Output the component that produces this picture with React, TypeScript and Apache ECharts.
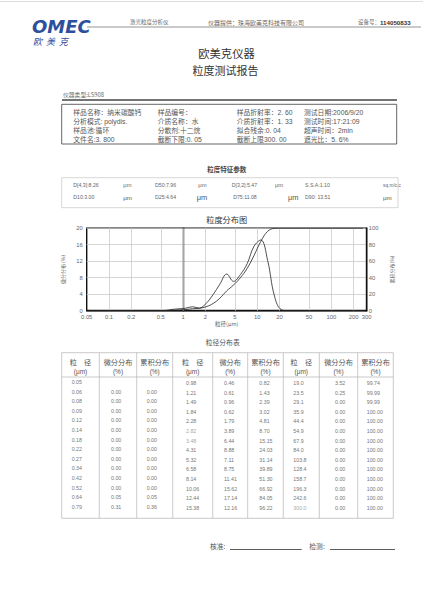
import React, { useEffect, useRef } from "react";
import * as echarts from "echarts";

// ---------- data ----------
const sizeCol1 = [0.05, 0.06, 0.08, 0.09, 0.12, 0.14, 0.18, 0.22, 0.27, 0.34, 0.42, 0.52, 0.64, 0.79];
const diffCol1 = [0, 0, 0, 0, 0, 0, 0, 0, 0, 0, 0, 0.05, 0.31];
const cumCol1 = [0, 0, 0, 0, 0, 0, 0, 0, 0, 0, 0, 0.05, 0.36];
const sizeCol2 = [0.98, 1.21, 1.49, 1.84, 2.28, 2.82, 3.48, 4.31, 5.32, 6.58, 8.14, 10.06, 12.44, 15.38];
const diffCol2 = [0.46, 0.61, 0.96, 0.62, 1.79, 3.89, 6.44, 8.88, 7.11, 8.75, 11.41, 15.62, 17.14, 12.16];
const cumCol2 = [0.82, 1.43, 2.39, 3.02, 4.81, 8.7, 15.15, 24.03, 31.14, 39.89, 51.3, 66.92, 84.05, 96.22];
const sizeCol3 = [19.0, 23.5, 29.1, 35.9, 44.4, 54.9, 67.9, 84.0, 103.8, 128.4, 158.7, 196.3, 242.6, 300.0];
const diffCol3 = [3.52, 0.25, 0, 0, 0, 0, 0, 0, 0, 0, 0, 0, 0, 0];
const cumCol3 = [99.74, 99.99, 99.99, 100, 100, 100, 100, 100, 100, 100, 100, 100, 100, 100];

const xTicks = [0.05, 0.1, 0.2, 0.5, 1, 2, 5, 10, 20, 50, 100, 200, 300];
const xTickLabels = ["0.05", "0.1", "0.2", "0.5", "1", "2", "5", "10", "20", "50", "100", "200", "300"];

const infoRows = [
  ["样品名称：纳米碳酸钙", "样品编号：", "样品折射率：2. 60", "测试日期:2006/9/20"],
  ["分析模式: polydis.", "介质名称：水", "介质折射率：1. 33", "测试时间:17:21:09"],
  ["样品池:循环", "分散剂:十二烷", "拟合残余:0. 04", "超声时间：2min"],
  ["文件名:3. 800", "截断下限:0. 05", "截断上限300. 00", "遮光比：5. 6%"],
];
const paramRow1 = ["D[4,3]:8.26", "D50:7.96", "D[3,2]:5.47", "S.S.A:1.10"];
const paramRow2 = ["D10:3.00", "D25:4.64", "D75:11.08", "D90: 13.51"];
const paramUnits1 = ["μm", "μm", "μm", "sq.m/c.c"];
const paramUnits2 = ["μm", "μm", "μm", "μm"];
const tableHeaders = [
  ["粒　径", "(μm)"], ["微分分布", "(%)"], ["累积分布", "(%)"],
  ["粒　径", "(μm)"], ["微分布", "(%)"], ["累积分布", "(%)"],
  ["粒　径", "(μm)"], ["微分分布", "(%)"], ["累积分布", "(%)"],
];

const FONT = '"Liberation Sans", "Noto Sans CJK SC", sans-serif';
const CJK = '"Noto Sans CJK SC", sans-serif';

function txt(x: number, y: number, text: string, fontSize: number, o: any = {}) {
  const align = o.align || "left";
  return {
    type: "text",
    x,
    y,
    silent: true,
    scaleX: o.scaleX || 1,
    style: {
      text,
      fontSize,
      fontFamily: o.family || FONT,
      fontWeight: o.weight || "normal",
      fontStyle: o.style || "normal",
      fill: o.fill || "#555",
      align,
      textAlign: align,
      verticalAlign: "middle",
      textVerticalAlign: "middle",
    },
  };
}
function ln(x1: number, y1: number, x2: number, y2: number, stroke: string, lineWidth: number) {
  return { type: "line", silent: true, shape: { x1, y1, x2, y2 }, style: { stroke, lineWidth } };
}
function box(x: number, y: number, w: number, h: number, stroke: string, lineWidth: number) {
  return { type: "rect", silent: true, shape: { x, y, width: w, height: h }, style: { fill: "none", stroke, lineWidth } };
}

export default function App() {
  const ref = useRef<HTMLDivElement>(null);
  useEffect(() => {
    if (!ref.current) return;
    const chart = echarts.init(ref.current, null, { renderer: "svg" });

    const sizes = [...sizeCol1, ...sizeCol2, ...sizeCol3];
    const diffs = [...diffCol1, ...diffCol2, ...diffCol3];
    const cums = [...cumCol1, ...cumCol2, ...cumCol3];
    const mids = diffs.map((_, i) => Math.log10(Math.sqrt(sizes[i] * sizes[i + 1])));
    const diffData = diffs.map((v, i) => [mids[i], v]);
    const cumData = cums.map((v, i) => [mids[i], v]);
    const tickLogs = xTicks.map((t) => Math.log10(t));
    const labelFor = (v: number) => {
      let best = 0;
      tickLogs.forEach((t, i) => {
        if (Math.abs(t - v) < Math.abs(tickLogs[best] - v)) best = i;
      });
      return xTickLabels[best];
    };

    const g: any[] = [];
    // page top edge
    g.push(ln(0, 1.5, 423, 1.5, "#dddddd", 1));
    // logo
    g.push(txt(32, 26, "OMEC", 18, { weight: "bold", style: "italic", fill: "#2d4f9e", family: '"DejaVu Sans", sans-serif' }));
    g.push(txt(33, 41.5, "欧  美  克", 9, { style: "italic", fill: "#2d4f9e", family: CJK }));
    // header
    g.push(txt(130, 22.3, "激光粒度分析仪", 5.5, { family: CJK, fill: "#666" }));
    g.push(txt(208, 22.3, "仪器提供：珠海欧美克科技有限公司", 6, { family: CJK, fill: "#666" }));
    g.push(txt(358, 22.3, "设备号：", 5.5, { family: CJK, fill: "#666" }));
    g.push(txt(380, 22.3, "114050833", 6.2, { fill: "#333", weight: "bold" }));
    g.push(ln(87, 27, 421, 27, "#888", 0.9));
    // titles
    g.push(txt(226.5, 53, "欧美克仪器", 11.3, { align: "center", family: CJK, fill: "#333" }));
    g.push(txt(225.5, 70, "粒度测试报告", 11, { align: "center", family: CJK, fill: "#333" }));
    g.push(txt(63, 94.3, "仪器类型:LS908", 5.8, { family: CJK, fill: "#666" }));
    g.push(ln(62, 100, 397, 100, "#444", 1.4));
    g.push(box(61.7, 104.3, 335, 39.7, "#555", 0.9));
    const infoX = [73.3, 157.7, 236.7, 304];
    const infoY = [112, 121.5, 130.8, 139.8];
    infoRows.forEach((row, r) =>
      row.forEach((s, c) => g.push(txt(infoX[c], infoY[r], s, 6.8, { fill: "#555" })))
    );
    // feature params
    g.push(txt(226.7, 169, "粒度特征参数", 6.5, { align: "center", family: CJK, fill: "#444", weight: "bold" }));
    g.push(box(61.7, 177.7, 336.3, 30, "#cccccc", 0.8));
    const pX = [73.3, 155, 231.7, 305];
    const uX1 = [123.3, 198.3, 275, 383];
    const uX2 = [123.3, 196.7, 288, 383];
    paramRow1.forEach((s, i) => {
      g.push(txt(pX[i], 185, s, 5.2, { fill: "#666" }));
      g.push(txt(uX1[i], 185, paramUnits1[i], i === 3 ? 4.8 : 5.8, { fill: "#666" }));
    });
    paramRow2.forEach((s, i) => {
      g.push(txt(pX[i] + (i === 2 ? 1.5 : 0), 197.3, s, 5.2, { fill: "#666" }));
      g.push(txt(uX2[i], 197.3, paramUnits2[i], i === 1 || i === 2 ? 7.5 : 6.2, { fill: "#555" }));
    });
    // chart title
    g.push(txt(226.7, 219.3, "粒度分布图", 8.2, { align: "center", family: CJK, fill: "#333" }));
    // table
    g.push(txt(222.7, 342.3, "粒径分布表", 6.8, { align: "center", family: CJK, fill: "#555" }));
    const colX = [61.7, 99.3, 136.7, 172.7, 212.7, 247.7, 283.3, 319.3, 357.7, 393.3];
    g.push(box(61.7, 352.7, 331.6, 165.6, "#bbbbbb", 0.8));
    for (let i = 1; i < colX.length - 1; i++) g.push(ln(colX[i], 352.7, colX[i], 518.3, "#bbbbbb", 0.8));
    g.push(ln(61.7, 377, 393.3, 377, "#bbbbbb", 0.8));
    tableHeaders.forEach((h, i) => {
      const cx = (colX[i] + colX[i + 1]) / 2;
      g.push(txt(cx, 361.7, h[0], 7.2, { align: "center", family: CJK, fill: "#555" }));
      g.push(txt(cx, 371, h[1], 6.5, { align: "center", fill: "#555" }));
    });
    const dX = [71.7, 111, 146.7, 186, 224, 259.3, 293.3, 335, 366.7];
    const rowY1 = (i: number) => 382 + 9.6 * i;
    const rowY2 = (i: number) => 383 + 9.6 * i;
    const dfs = { fill: "#777" };
    sizeCol1.forEach((v, i) => g.push(txt(dX[0], rowY1(i), v.toFixed(2), 5.3, dfs)));
    diffCol1.forEach((v, i) => g.push(txt(dX[1], rowY1(i + 1), v.toFixed(2), 5.3, dfs)));
    cumCol1.forEach((v, i) => g.push(txt(dX[2], rowY1(i + 1), v.toFixed(2), 5.3, dfs)));
    sizeCol2.forEach((v, i) => g.push(txt(dX[3], rowY2(i), v.toFixed(2), 5.3, { fill: i === 5 || i === 6 ? "#aaa" : "#777" })));
    diffCol2.forEach((v, i) => g.push(txt(dX[4], rowY2(i), v.toFixed(2), 5.3, dfs)));
    cumCol2.forEach((v, i) => g.push(txt(dX[5], rowY2(i), v.toFixed(2), 5.3, dfs)));
    sizeCol3.forEach((v, i) => g.push(txt(dX[6], rowY2(i), v.toFixed(1), 5.3, { fill: i === 13 ? "#aaa" : "#777" })));
    diffCol3.forEach((v, i) => g.push(txt(dX[7], rowY2(i), v.toFixed(2), 5.3, dfs)));
    cumCol3.forEach((v, i) => g.push(txt(dX[8], rowY2(i), v.toFixed(2), 5.3, dfs)));
    // signatures
    g.push(txt(210, 546, "核准:", 6.8, { family: CJK, fill: "#555" }));
    g.push(ln(230, 549.5, 301.7, 549.5, "#333", 0.8));
    g.push(txt(309.3, 546, "检测:", 6.8, { family: CJK, fill: "#555" }));
    g.push(ln(330, 549.5, 395, 549.5, "#333", 0.8));

    chart.setOption({
      animation: false,
      backgroundColor: "#ffffff",
      graphic: { elements: g },
      grid: {
        left: 86.7,
        top: 228.2,
        width: 280,
        height: 82.5,
        show: true,
        borderColor: "#111",
        borderWidth: 1.4,
        backgroundColor: "transparent",
      },
      xAxis: {
        type: "value",
        min: Math.log10(0.05),
        max: Math.log10(300),
        axisLine: { show: true, lineStyle: { color: "#111", width: 1.4 } },
        axisTick: { show: false },
        splitLine: { show: false },
        axisLabel: {
          customValues: tickLogs,
          formatter: (v: number) => labelFor(v),
          fontSize: 5.8,
          color: "#666",
          margin: 3,
          hideOverlap: false,
          showMinLabel: true,
          showMaxLabel: true,
          fontFamily: FONT,
        },
        name: "粒径(μm)",
        nameLocation: "middle",
        nameGap: 11,
        nameTextStyle: { fontSize: 5.5, color: "#666", fontFamily: CJK },
      },
      yAxis: [
        {
          type: "value",
          min: 0,
          max: 20,
          interval: 4,
          axisLine: { show: true, lineStyle: { color: "#111", width: 1.4 } },
          axisTick: { show: false },
          splitLine: { show: true, lineStyle: { color: "#cccccc", width: 0.8 } },
          axisLabel: { fontSize: 5.8, color: "#666", margin: 4, fontFamily: FONT },
          name: "微分分布 (%)",
          nameLocation: "middle",
          nameRotate: 90,
          nameGap: 9,
          nameTextStyle: { fontSize: 5, color: "#666", fontFamily: CJK },
        },
        {
          type: "value",
          min: 0,
          max: 100,
          interval: 20,
          position: "right",
          axisLine: { show: true, lineStyle: { color: "#111", width: 1.4 } },
          axisTick: { show: false },
          splitLine: { show: false },
          axisLabel: { fontSize: 5.8, color: "#666", margin: 2, fontFamily: FONT },
          name: "累积分布(%)",
          nameLocation: "middle",
          nameRotate: 90,
          nameGap: 21,
          nameTextStyle: { fontSize: 5, color: "#666", fontFamily: CJK },
        },
      ],
      series: [
        {
          type: "line",
          name: "微分分布",
          data: diffData,
          smooth: 0.4,
          symbol: "none",
          lineStyle: { color: "#222", width: 0.8 },
          z: 3,
          markLine: {
            silent: true,
            symbol: ["none", "none"],
            label: { show: false },
            lineStyle: { color: "#cccccc", type: "solid", width: 0.8 },
            data: tickLogs.slice(1, -1).map((t) => ({ xAxis: t })),
            z: 1,
          },
        },
        {
          type: "line",
          name: "累积分布",
          yAxisIndex: 1,
          data: cumData,
          smooth: 0.4,
          symbol: "none",
          lineStyle: { color: "#222", width: 0.8 },
          z: 3,
        },
      ],
    });
    return () => chart.dispose();
  }, []);
  return (
    <div
      ref={ref}
      style={{ position: "fixed", left: 0, top: 0, width: 423, height: 605, background: "#fff" }}
    />
  );
}
